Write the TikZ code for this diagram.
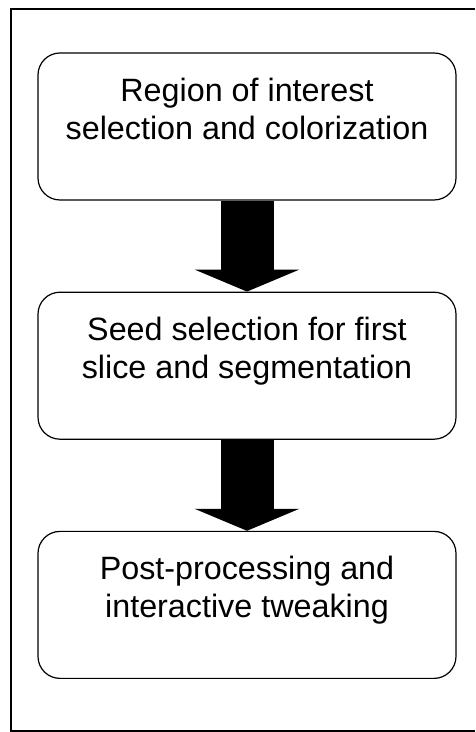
\documentclass[tikz,border=0pt]{standalone}
\usepackage{fontspec}
\setmainfont{Liberation Sans}
\usetikzlibrary{positioning,arrows.meta}

\begin{document}
\begin{tikzpicture}[x=1pt,y=1pt,
  stage/.style={draw,line width=1.2pt,rounded corners=22pt,minimum width=418pt,minimum height=147pt,inner sep=0pt},
  stagetext/.style={anchor=north,align=center,inner sep=0pt,font=\fontsize{32.3}{38}\selectfont},
  bigarrow/.style={line width=53pt,-{Triangle[width=104pt,length=22pt]}},
  node distance=91pt]

\useasboundingbox (0,0) rectangle (475,732);

% ===== Outer frame (right side cut off) =====
\draw[line width=2pt] (475,723) -- (11,723) -- (11,1) -- (475,1);

% ===== Stages =====
\node[stage] (r1) at (247,605.5) {};
\node[stage, below=of r1] (r2) {};
\node[stage, below=of r2] (r3) {};

\node[stagetext] (t1) at ([yshift=-25pt]r1.north) {Region of interest\\selection and colorization};
\node[stagetext] (t2) at ([yshift=-25pt]r2.north) {Seed selection for first\\slice and segmentation};
\node[stagetext] (t3) at ([yshift=-25pt]r3.north) {Post-processing and\\interactive tweaking};

% ===== Arrows =====
\draw[bigarrow] (r1.south) -- (r2.north);
\draw[bigarrow] (r2.south) -- (r3.north);

\end{tikzpicture}
\end{document}
